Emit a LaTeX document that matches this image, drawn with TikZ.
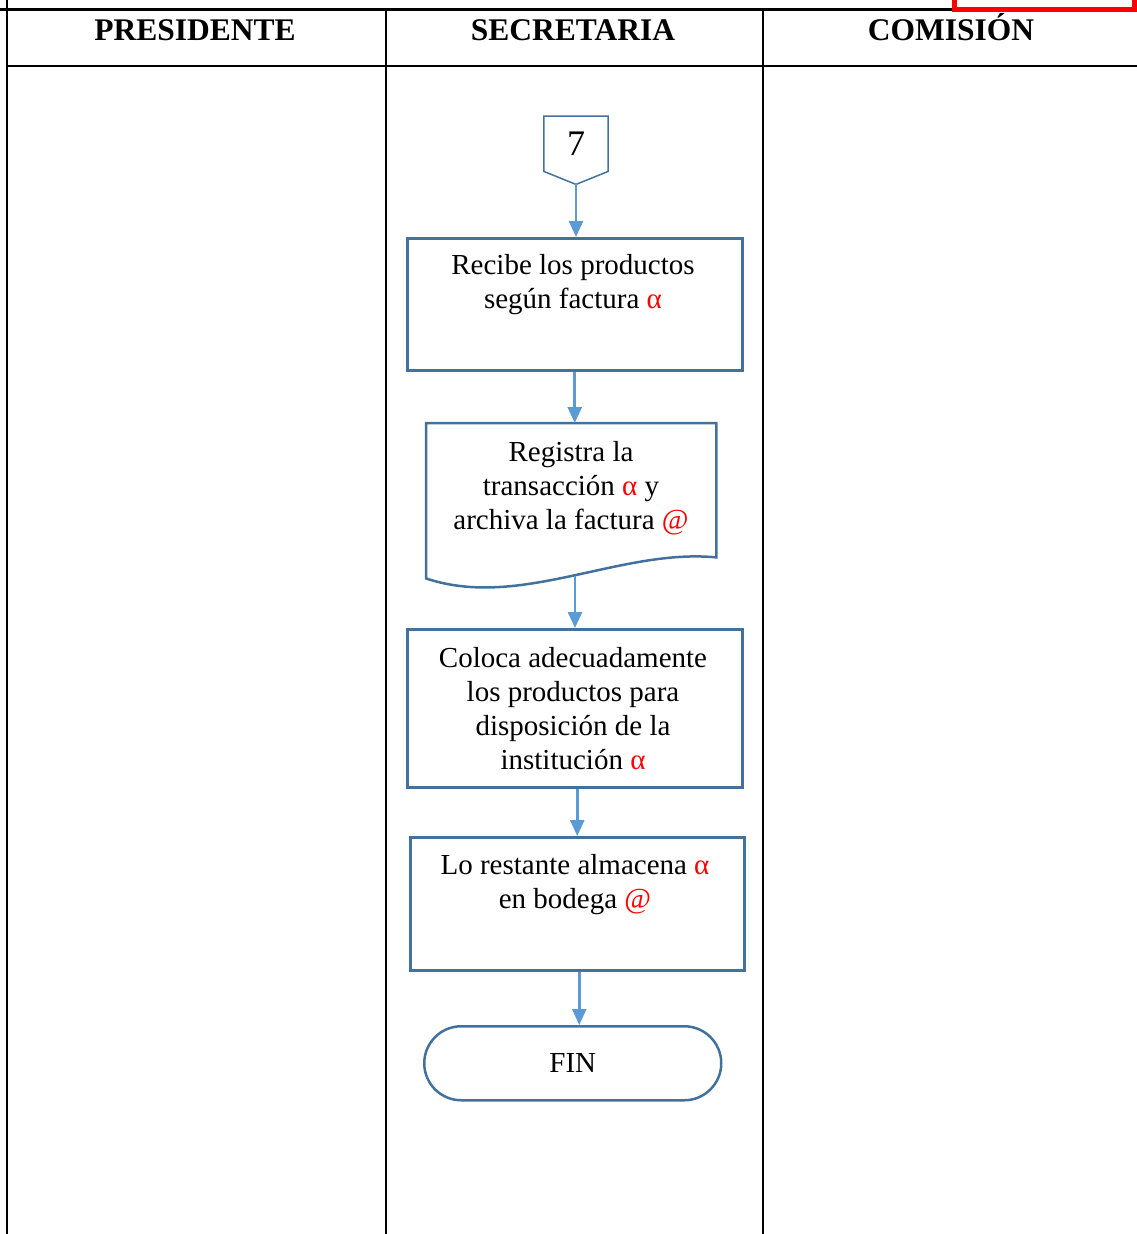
\documentclass[tikz,border=0pt]{standalone}
\usepackage{fontspec}
\setmainfont{Liberation Serif}
\usetikzlibrary{arrows.meta}
\definecolor{boxline}{HTML}{41719C}
\definecolor{flowline}{HTML}{5B9BD5}
\definecolor{markred}{HTML}{FF0000}
\newcommand{\alred}{\textcolor{markred}{α}}
\newcommand{\atred}{\textcolor{markred}{@}}
\begin{document}
\begin{tikzpicture}[x=1pt,y=-1pt,
  gridline/.style={black, line width=2pt},
  headtext/.style={font=\bfseries\fontsize{31.5}{36}\selectfont, inner sep=0, anchor=base},
  bodytext/.style={font=\fontsize{29}{34}\selectfont, align=center, inner sep=0},
  procbox/.style={draw=boxline, line width=2.5pt, anchor=north west, inner sep=0},
  flowarrow/.style={draw=flowline, line width=2.6pt, -{Triangle[width=14pt,length=16pt]}}]
\useasboundingbox (0,0) rectangle (1137,1234);

% table frame
\draw[black, line width=3pt] (0,9.5) -- (1137,9.5);
\draw[gridline] (7,66) -- (1137,66);
\draw[gridline] (7,0) -- (7,1234);
\draw[gridline] (385.5,9.5) -- (385.5,1234);
\draw[gridline] (763,9.5) -- (763,1234);
\draw[markred, line width=5pt] (954.5,-10) rectangle (1134.5,9);

% column headings
\node[headtext] (h1) at (195,40) {PRESIDENTE};
\node[headtext] (h2) at (573,40) {SECRETARIA};
\node[headtext] (h3) at (951,40) {COMISIÓN};

% off-page connector
\node[minimum width=64pt, minimum height=55pt, anchor=north, inner sep=0,
      font=\fontsize{36}{40}\selectfont] (c7) at (576,116) {\raisebox{-2pt}{7}};
\draw[boxline, line width=1.5pt] (c7.north west) -- (c7.north east) -- (c7.south east)
  -- ([yshift=-13pt]c7.south) -- (c7.south west) -- cycle;
\coordinate (c7tip) at ([yshift=-13pt]c7.south);

% process steps
\node[procbox, minimum width=335pt, minimum height=132pt] (b1) at (406,237) {};
\node[bodytext] (t1) at (573,285) {Recibe los productos\\según factura \alred};

\node[anchor=north west, inner sep=0, minimum width=290pt, minimum height=155pt] (b2) at (426,423) {};
\draw[boxline, line width=2.5pt] (b2.south west) -- (b2.north west) -- (b2.north east)
  -- ([yshift=21pt]b2.south east) .. controls (620,548) and (520,610) .. (b2.south west) -- cycle;
\coordinate (w2) at (575,576);
\node[bodytext] (t2) at (571,488) {Registra la\\transacción \alred{} y\\archiva la factura \atred};

\node[procbox, minimum width=335pt, minimum height=158pt] (b3) at (406,628) {};
\node[bodytext] (t3) at (573,709) {Coloca adecuadamente\\los productos para\\disposición de la\\institución \alred};

\node[procbox, minimum width=334pt, minimum height=133pt] (b4) at (409,836) {};
\node[bodytext] (t4) at (575,885) {Lo restante almacena \alred\\en bodega \atred};

\node[draw=boxline, line width=2.5pt, rounded corners=37pt, minimum width=297pt,
      minimum height=74pt, anchor=north west, inner sep=0,
      font=\fontsize{29}{34}\selectfont] (fin) at (423,1025) {FIN};

% connectors
\draw[flowarrow] (c7tip) -- (c7tip |- b1.north);
\draw[flowarrow] (b1.south) -- (b1.south |- b2.north);
\draw[flowarrow] (w2) -- (w2 |- b3.north);
\draw[flowarrow] ([xshift=2.5pt]b3.south) -- ([xshift=2.5pt]b3.south |- b4.north);
\draw[flowarrow] ([xshift=2pt]b4.south) -- ([xshift=2pt]b4.south |- fin.north);
\end{tikzpicture}
\end{document}
